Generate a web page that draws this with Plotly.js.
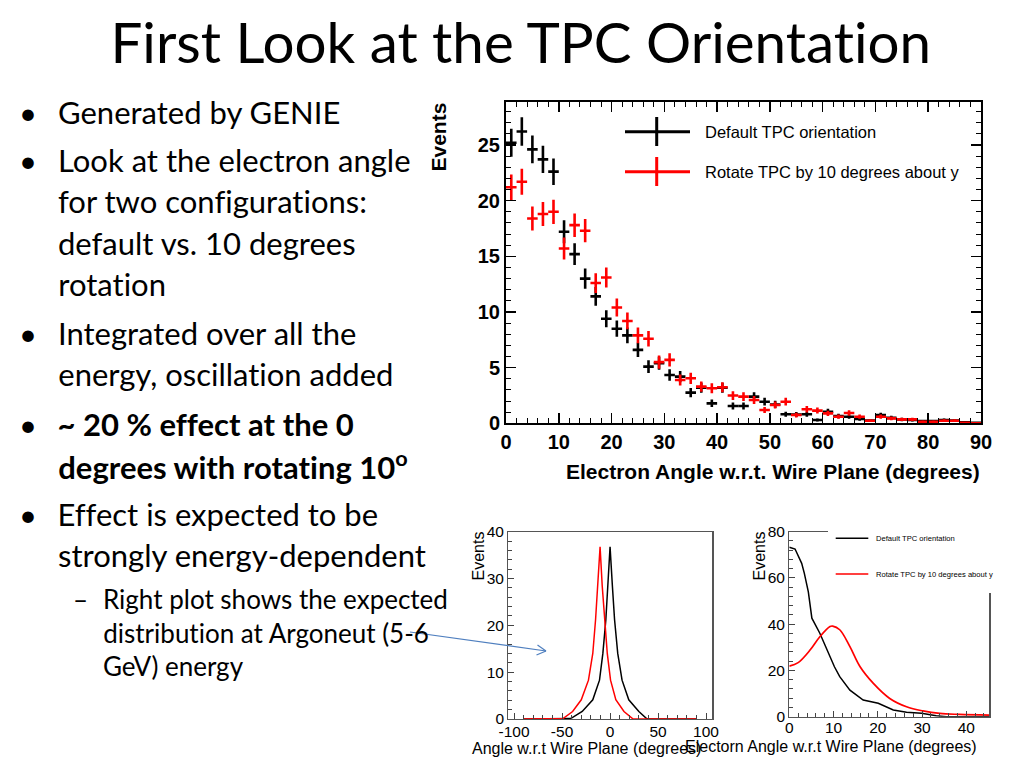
<!DOCTYPE html>
<html>
<head>
<meta charset="utf-8">
<script src="https://cdn.plot.ly/plotly-3.0.1.min.js"></script>
<style>
html,body{margin:0;padding:0;background:#fff;}
#chart{width:1024px;height:768px;}
#chart text{font-variant-ligatures:none !important;font-feature-settings:"liga" 0, "clig" 0;}
</style>
</head>
<body>
<div id="chart"></div>
<script>
// ---------- Main histogram (2-degree bins) ----------
const binCenters = [1,3,5,7,9,11,13,15,17,19,21,23,25,27,29,31,33,35,37,39,41,43,45,47,49,51,53,55,57,59,61,63,65,67,69,71,73,75,77,79,81,83,85,87,89];
const defaultCounts = [25.2,26.2,24.6,23.7,22.6,17.2,15.2,13.0,11.4,9.4,8.5,7.9,6.6,5.1,5.4,4.35,4.2,2.76,3.2,1.8,3.2,1.56,1.56,2.4,1.95,1.7,0.82,0.8,0.82,0.3,1.05,0.66,0.6,0.4,0.25,0.75,0.5,0.35,0.3,0.2,0.2,0.3,0.25,0.1,0.05];
const rotatedCounts = [21.2,21.7,18.4,18.8,19.0,15.7,17.8,17.3,12.6,13.1,10.4,9.2,7.9,7.6,5.5,5.7,3.9,4.05,3.3,3.15,3.25,2.5,2.4,2.1,1.2,1.65,1.95,0.75,1.27,1.15,0.9,0.6,0.93,0.6,0.24,0.6,0.45,0.36,0.36,0.15,0.15,0.24,0.24,0.06,0.0];
const eventWeight = 0.0625; // weight per event -> error = sqrt(count*weight)
const mainXTicks = [0,10,20,30,40,50,60,70,80,90];
const mainYTicks = [0,5,10,15,20,25];

// ---------- Bottom-left: full angle distribution ----------
const blDefaultX = [-90,-48,-41,-29,-18,-11,-7.5,-4.4,-2.4,0,2.4,4.7,8,12.5,19.5,30,38,42,90];
const blDefaultY = [0,0,0.1,1.6,4.1,8.3,14,21.2,28.5,36.8,28.5,21.2,14,8.3,4.1,1.6,0.1,0,0];
const blRotX = [-90,-52,-49,-39,-30,-22.5,-18,-15.1,-12.7,-10.4,-8.2,-5.7,-2.9,0.5,6,14.5,24,90];
const blRotY = [0,0,0.1,1.6,4.1,8.3,14,21.2,28.5,36.8,28.5,21.2,14,8.3,4.1,1.6,0,0];
const blXTicks = [-100,-50,0,50,100];
const blXTickText = ['-100','-50','0','50','100'];
const blYTicks = [0,10,20,30,40];

// ---------- Bottom-right: absolute angle distribution ----------
const brDefaultX = [0,1.3,2.8,3.4,4.3,5.1,6.9,8.8,10.2,11.4,13.7,16.7,20.1,23.5,26.5,29.9,33.2,35.5,45.2];
const brDefaultY = [73.3,72.5,66.3,62,54,42.6,36.1,27.4,21.6,17.3,11.5,7.2,5.8,2.9,1.9,1.5,0.4,0,0];
const brRotX = [0,2,4.6,6.9,9.2,9.8,11.4,13.7,16,19,22.7,26.5,30.2,34,38.5,45.2];
const brRotY = [21.9,23.4,28.6,34.6,39,39.2,37.6,30.3,21.6,14.4,7.9,4.3,2.5,1.4,1.0,0.7];
const brXTicks = [0,10,20,30,40];
const brYTicks = [0,20,40,60,80];

const seriesNames = ["Default TPC orientation", "Rotate TPC by 10 degrees about y"];

// ---------- helpers (pixel -> paper) ----------
const W = 1024, H = 768;
const px = v => v / W;
const py = v => 1 - v / H;

const errDefault = defaultCounts.map(v => Math.sqrt(v * eventWeight));
const errRot = rotatedCounts.map(v => Math.sqrt(v * eventWeight));

const traces = [
  {x: binCenters, y: defaultCounts, type: 'scatter', mode: 'markers', name: seriesNames[0],
   xaxis: 'x', yaxis: 'y', marker: {size: 1, color: '#000'}, showlegend: false,
   error_y: {type: 'data', array: errDefault, visible: true, color: '#000', thickness: 2.6, width: 0},
   error_x: {type: 'constant', value: 1, visible: true, color: '#000', thickness: 2.6, width: 0}},
  {x: binCenters, y: rotatedCounts, type: 'scatter', mode: 'markers', name: seriesNames[1],
   xaxis: 'x', yaxis: 'y', marker: {size: 1, color: '#ff0000'}, showlegend: false,
   error_y: {type: 'data', array: errRot, visible: true, color: '#ff0000', thickness: 2.6, width: 0},
   error_x: {type: 'constant', value: 1, visible: true, color: '#ff0000', thickness: 2.6, width: 0}},
  {x: blDefaultX, y: blDefaultY, type: 'scatter', mode: 'lines', xaxis: 'x2', yaxis: 'y2',
   line: {color: '#000', width: 1.5}, showlegend: false, name: seriesNames[0]},
  {x: blRotX, y: blRotY, type: 'scatter', mode: 'lines', xaxis: 'x2', yaxis: 'y2',
   line: {color: '#ff0000', width: 1.5}, showlegend: false, name: seriesNames[1]},
  {x: brDefaultX, y: brDefaultY, type: 'scatter', mode: 'lines', xaxis: 'x3', yaxis: 'y3',
   line: {color: '#000', width: 1.5}, showlegend: false, name: seriesNames[0]},
  {x: brRotX, y: brRotY, type: 'scatter', mode: 'lines', xaxis: 'x3', yaxis: 'y3',
   line: {color: '#ff0000', width: 1.7, shape: 'spline'}, showlegend: false, name: seriesNames[1]}
];

const rootFont = 'Liberation Sans, Arial, sans-serif';
const slideFont = 'Lato, Carlito, Calibri, sans-serif';
const smallTick = {family: rootFont, size: 15.5, color: '#000'};

const layout = {
  width: W, height: H,
  margin: {l: 0, r: 0, t: 0, b: 0},
  paper_bgcolor: '#fff', plot_bgcolor: 'rgba(0,0,0,0)',
  showlegend: false,
  xaxis: {domain: [px(506), px(981)], range: [0, 90], anchor: 'y',
    tickvals: mainXTicks, ticks: 'inside', ticklen: 10, tickwidth: 1.5, tickcolor: '#000',
    showline: true, linewidth: 2, linecolor: '#000', mirror: 'allticks',
    showgrid: false, zeroline: false,
    tickfont: {family: rootFont, size: 20, weight: 'bold', color: '#000'},
    minor: {dtick: 2, tick0: 0, ticks: 'inside', ticklen: 5, tickwidth: 1, tickcolor: '#000'}},
  yaxis: {domain: [py(423.4), py(101.5)], range: [0, 28.9], anchor: 'x',
    tickvals: mainYTicks, ticks: 'inside', ticklen: 10, tickwidth: 1.5, tickcolor: '#000',
    showline: true, linewidth: 2, linecolor: '#000', mirror: 'allticks',
    showgrid: false, zeroline: false,
    tickfont: {family: rootFont, size: 20, weight: 'bold', color: '#000'},
    minor: {dtick: 1, tick0: 0, ticks: 'inside', ticklen: 5, tickwidth: 1, tickcolor: '#000'}},
  xaxis2: {domain: [px(508.3), px(712.3)], range: [-106, 106.5], anchor: 'y2',
    tickvals: blXTicks, ticktext: blXTickText, ticks: 'inside', ticklen: 6, tickwidth: 1, tickcolor: '#444',
    showline: true, linewidth: 1.2, linecolor: '#555', mirror: true, ticklabelstandoff: -2,
    showgrid: false, zeroline: false, tickfont: smallTick,
    minor: {dtick: 10, tick0: 0, ticks: 'inside', ticklen: 4, tickwidth: 1, tickcolor: '#444'}},
  yaxis2: {domain: [py(719), py(531.7)], range: [0, 40], anchor: 'x2',
    tickvals: blYTicks, ticks: 'inside', ticklen: 6, tickwidth: 1, tickcolor: '#444',
    showline: true, linewidth: 1.2, linecolor: '#555', mirror: true,
    showgrid: false, zeroline: false, tickfont: smallTick,
    minor: {dtick: 2, tick0: 0, ticks: 'inside', ticklen: 4, tickwidth: 1, tickcolor: '#444'}},
  xaxis3: {domain: [px(789.3), px(989.3)], range: [0, 45.2], anchor: 'y3',
    tickvals: brXTicks, ticks: 'inside', ticklen: 6, tickwidth: 1, tickcolor: '#444',
    showline: true, linewidth: 1.2, linecolor: '#555', mirror: true, ticklabelstandoff: -4,
    showgrid: false, zeroline: false, tickfont: smallTick,
    minor: {dtick: 2, tick0: 0, ticks: 'inside', ticklen: 4, tickwidth: 1, tickcolor: '#444'}},
  yaxis3: {domain: [py(716.7), py(531.7)], range: [0, 80], anchor: 'x3',
    tickvals: brYTicks, ticks: 'inside', ticklen: 6, tickwidth: 1, tickcolor: '#444',
    showline: true, linewidth: 1.2, linecolor: '#555', mirror: true,
    showgrid: false, zeroline: false, tickfont: smallTick,
    minor: {dtick: 4, tick0: 0, ticks: 'inside', ticklen: 4, tickwidth: 1, tickcolor: '#444'}},
  shapes: [],
  annotations: []
};

const S = layout.shapes, A = layout.annotations;
function line(x0, y0, x1, y1, color, width) {
  S.push({type: 'line', xref: 'paper', yref: 'paper', x0: px(x0), y0: py(y0), x1: px(x1), y1: py(y1),
          line: {color: color, width: width}, layer: 'above'});
}
function text(t, x, y, opt) {
  opt = opt || {};
  A.push(Object.assign({text: t, xref: 'paper', yref: 'paper', x: px(x), y: py(y), showarrow: false,
    xanchor: 'left', yanchor: 'middle',
    font: {family: slideFont, size: 31, color: '#000'}}, opt));
}

// Main chart legend
line(625, 131.7, 690, 131.7, '#000', 3);
line(656.7, 117, 656.7, 146, '#000', 3);
line(625, 171.7, 690, 171.7, '#ff0000', 3);
line(656.7, 157, 656.7, 186, '#ff0000', 3);
text(seriesNames[0], 703, 132, {font: {family: rootFont, size: 16.5, color: '#000'}});
text(seriesNames[1], 703, 172, {font: {family: rootFont, size: 16.5, color: '#000'}});

// Main chart axis titles
text('Electron Angle w.r.t. Wire Plane (degrees)', 982, 471,
  {xanchor: 'right', font: {family: rootFont, size: 21, weight: 'bold', color: '#000'}});
text('Events', 438, 101, {xanchor: 'center', yanchor: 'top', textangle: -90,
  font: {family: rootFont, size: 21, weight: 'bold', color: '#000'}});

// Bottom-left titles
text('Angle w.r.t Wire Plane (degrees)', 586, 748.5, {xanchor: 'center', font: {family: rootFont, size: 16, color: '#000'}});
text('Events', 478, 530, {xanchor: 'center', yanchor: 'top', textangle: -90, font: {family: rootFont, size: 16, color: '#000'}});

// Bottom-right legend box + titles
S.push({type: 'rect', xref: 'paper', yref: 'paper', x0: px(828), x1: px(1012), y0: py(593), y1: py(518),
        fillcolor: '#fff', line: {width: 0}, layer: 'above'});
line(835.7, 538.3, 868.3, 538.3, '#000', 1.5);
line(835.7, 574, 868.3, 574, '#ff0000', 1.5);
text(seriesNames[0], 874, 538.5, {font: {family: rootFont, size: 7.6, color: '#000'}});
text(seriesNames[1], 874, 574.5, {font: {family: rootFont, size: 7.6, color: '#000'}});
text('Electorn Angle w.r.t Wire Plane (degrees)', 831, 746, {xanchor: 'center', font: {family: rootFont, size: 16, color: '#000'}});
text('Events', 759, 530, {xanchor: 'center', yanchor: 'top', textangle: -90, font: {family: rootFont, size: 16, color: '#000'}});

// Slide title
text('First Look at the TPC Orientation', 521, 41, {xanchor: 'center', font: {family: slideFont, size: 56.5, color: '#000'}});

// Bullets
const bulletLines = [
  ['Generated by GENIE', 112, true],
  ['Look at the electron angle', 160, true],
  ['for two configurations:', 201, false],
  ['default vs. 10 degrees', 243, false],
  ['rotation', 284, false],
  ['Integrated over all the', 333, true],
  ['energy, oscillation added', 374, false],
  ['<b>~ 20 % effect at the 0</b>', 424, true],
  ['<b>degrees with rotating 10<sup>o</sup></b>', 465, false],
  ['Effect is expected to be', 514, true],
  ['strongly energy-dependent', 555, false]
];
bulletLines.forEach(function(b) {
  text(b[0], 56, b[1]);
  if (b[2]) text('•', 17, b[1]);
});
const subLines = [
  ['Right plot shows the expected', 599],
  ['distribution at Argoneut (5-6', 633],
  ['GeV) energy', 666]
];
subLines.forEach(function(b) {
  text(b[0], 101, b[1], {font: {family: slideFont, size: 26, color: '#000'}});
});
text('–', 71, 599, {font: {family: slideFont, size: 26, color: '#000'}});

// Arrow
line(410, 632, 546, 651, '#4f7fbf', 1.2);
line(546, 651, 537.5, 645, '#4f7fbf', 1.2);
line(546, 651, 536.5, 655, '#4f7fbf', 1.2);

Plotly.newPlot('chart', traces, layout, {staticPlot: true, displayModeBar: false});
</script>
</body>
</html>
